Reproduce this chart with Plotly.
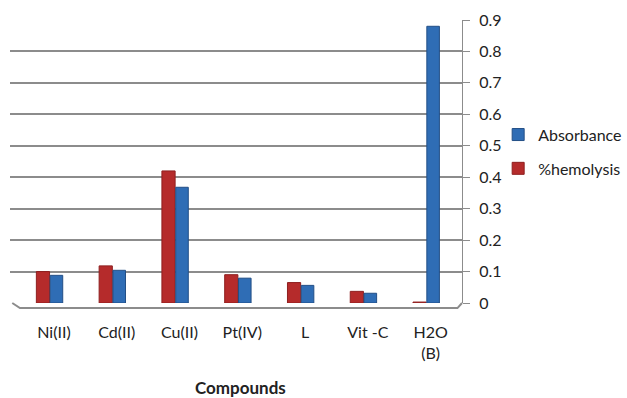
import plotly.graph_objects as go

categories = ["Ni(II)", "Cd(II)", "Cu(II)", "Pt(IV)", "L", "Vit -C", "H2O<br>(B)"]
hemolysis = [0.10, 0.118, 0.42, 0.09, 0.065, 0.037, 0.003]
absorbance = [0.088, 0.104, 0.368, 0.079, 0.056, 0.031, 0.88]
y_ticks = [0, 0.1, 0.2, 0.3, 0.4, 0.5, 0.6, 0.7, 0.8, 0.9]
y_ticklabels = ["0", "0.1", "0.2", "0.3", "0.4", "0.5", "0.6", "0.7", "0.8", "0.9"]

RED = "#B52B2B"
BLUE = "#2F6DB5"
GRID = "#8c8c8c"
FONT = "Lato, 'Open Sans', sans-serif"

fig = go.Figure()
fig.add_trace(go.Bar(x=categories, y=hemolysis, name="%hemolysis",
                     width=0.21, offset=-0.28,
                     marker=dict(color=RED, line=dict(color="#8E1F1F", width=1)),
                     legendgroup="h", legendrank=2))
fig.add_trace(go.Bar(x=categories, y=absorbance, name="Absorbance",
                     width=0.2, offset=-0.06,
                     marker=dict(color=BLUE, line=dict(color="#234F86", width=1)),
                     legendgroup="a", legendrank=1))

fig.update_layout(
    width=627, height=398,
    margin=dict(l=10, r=165, t=20, b=95, autoexpand=False),
    paper_bgcolor="white", plot_bgcolor="white",
    barmode="overlay",
    font=dict(family=FONT, size=16, color="#222"),
    showlegend=True,
    legend=dict(x=1.08, y=0.655, xanchor="left", yanchor="top",
                font=dict(size=16, color="#222"), tracegroupgap=10,
                itemwidth=30, bgcolor="rgba(0,0,0,0)"),
    xaxis=dict(range=[-0.7, 6.5], showgrid=False, showline=False,
               ticks="", tickfont=dict(size=16, color="#222"), ticklabelstandoff=18),
    yaxis=dict(side="right", range=[0, 0.9], tickvals=y_ticks, ticktext=y_ticklabels,
               showgrid=True, gridcolor=GRID, gridwidth=2,
               showline=True, linecolor=GRID, linewidth=1,
               ticks="outside", ticklen=7, tickcolor=GRID,
               tickfont=dict(size=16, color="#222"), ticklabelstandoff=6,
               zeroline=False),
)
# floor edge of the chart (decorative)
fig.add_shape(type="path", xref="paper", yref="paper",
              path="M 0.005 0.0 L 0.022 -0.018 L 0.99 -0.018 L 1.0 0.0",
              line=dict(color=GRID, width=2), fillcolor="rgba(0,0,0,0)", layer="below")
fig.add_annotation(text="<b>Compounds</b>", xref="paper", yref="paper",
                   x=0.51, y=-0.30, xanchor="center", yanchor="middle",
                   showarrow=False, font=dict(size=17, color="#222"))

fig.write_html("out.html")
